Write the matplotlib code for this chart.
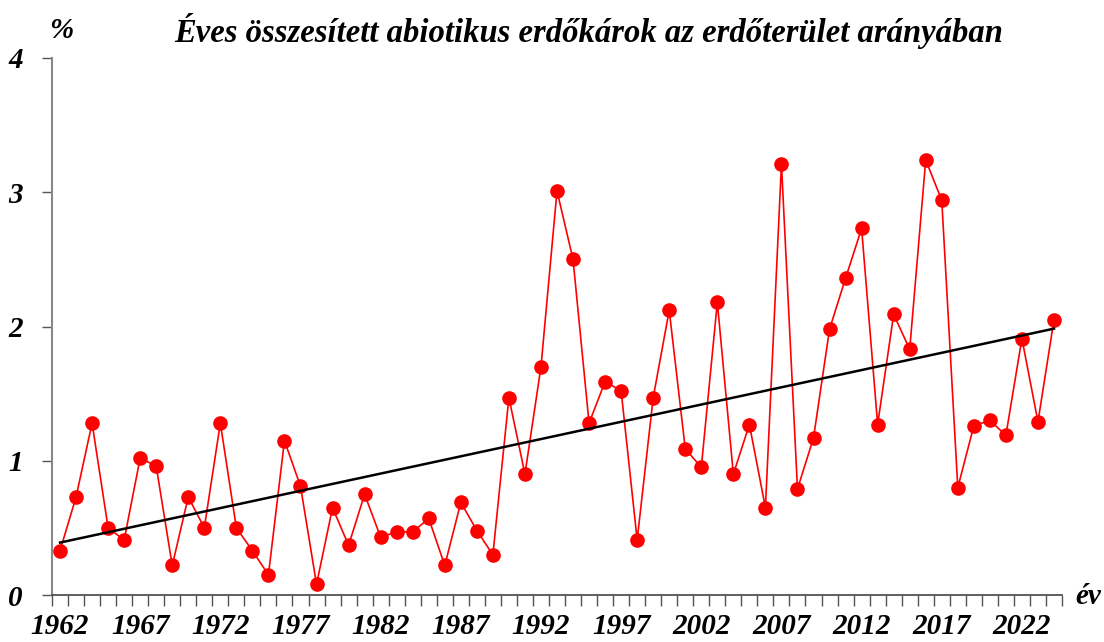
#!/usr/bin/env python3

import matplotlib
matplotlib.use("Agg")
import matplotlib.pyplot as plt
import numpy as np

# data (%, annual abiotic forest damage)
years = list(range(1962, 2025))
damage = [
    0.33, 0.73, 1.28, 0.50, 0.41, 1.02, 0.96, 0.22, 0.73, 0.50,  # 1962-1971
    1.28, 0.50, 0.33, 0.15, 1.15, 0.81, 0.08, 0.65, 0.37, 0.75,  # 1972-1981
    0.43, 0.47, 0.47, 0.57, 0.22, 0.69, 0.48, 0.30, 1.47, 0.90,  # 1982-1991
    1.70, 3.01, 2.50, 1.28, 1.59, 1.52, 0.41, 1.47, 2.12, 1.09,  # 1992-2001
    0.95, 2.18, 0.90, 1.27, 0.65, 3.21, 0.79, 1.17, 1.98, 2.36,  # 2002-2011
    2.73, 1.27, 2.09, 1.83, 3.24, 2.94, 0.80, 1.26, 1.30, 1.19,  # 2012-2021
    1.91, 1.29, 2.05,                                            # 2022-2024
]
label_years = list(range(1962, 2025, 5))
y_ticks = [0, 1, 2, 3, 4]

title = "Éves összesített abiotikus erdőkárok az erdőterület arányában"

font = dict(family="Liberation Serif", weight="bold", style="italic")

W, H = 1104, 642
fig = plt.figure(figsize=(W / 100, H / 100), dpi=100)
ax = fig.add_axes([52 / W, 47 / H, (1062 - 52) / W, (595 - 58) / H])

x = np.arange(len(years))
ax.plot(x, damage, "-", color="#ff0000", linewidth=1.2, zorder=3)
ax.plot(x, damage, "o", color="#ff0000", markersize=9.5, zorder=4)

# linear trend
k, b = np.polyfit(x, damage, 1)
ax.plot(x, k * x + b, color="black", linewidth=1.8, zorder=5)

ax.set_xlim(-0.5, len(years) - 0.5)
ax.set_ylim(0, 4)

# category boundaries as tick marks, labels on the category centres
ax.set_xticks(np.arange(-0.5, len(years)))
ax.set_xticklabels([])
ax.tick_params(axis="x", which="major", direction="out", length=8, width=1, color="#555555")
lab_pos = [years.index(yr) for yr in label_years]
ax.set_xticks(lab_pos, minor=True)
ax.set_xticklabels([str(yr) for yr in label_years], minor=True, fontsize=21, **font)
ax.tick_params(axis="x", which="minor", length=0, pad=13)

ax.set_yticks(y_ticks)
ax.set_yticklabels([str(v) for v in y_ticks], fontsize=21, **font)
ax.tick_params(axis="y", direction="out", length=7, width=1, color="#555555", pad=14)

for side in ["top", "right"]:
    ax.spines[side].set_visible(False)
ax.spines["left"].set_color("#888888")
ax.spines["left"].set_linewidth(1.5)
ax.spines["bottom"].set_color("#444444")
ax.spines["bottom"].set_linewidth(1.2)

fig.text(589 / W, 1 - 31 / H, title, ha="center", va="center", fontsize=23.5, **font)
fig.text(61 / W, 1 - 31 / H, "%", ha="center", va="center", fontsize=21, **font)
fig.text(1088 / W, 1 - 597 / H, "év", ha="center", va="center", fontsize=21, **font)

fig.savefig("out.png", dpi=100)
